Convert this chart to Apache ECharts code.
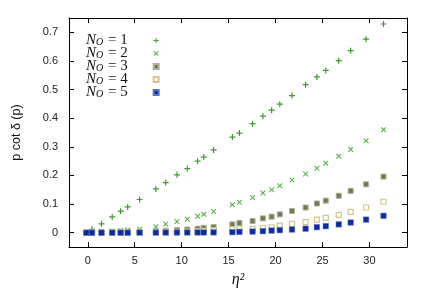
<!DOCTYPE html>
<html>
<head>
<meta charset="utf-8">
<script src="https://cdn.jsdelivr.net/npm/echarts@6/dist/echarts.min.js"></script>
<style>
html,body{margin:0;padding:0;background:#fff;}
#c{width:428px;height:305px;}
</style>
</head>
<body>
<div id="c"></div>
<script>
// eta^2 values (shared by all series)
const etaSq = [-0.15, 0.45, 1.46, 2.6, 3.5, 4.25, 5.52, 7.25, 8.3, 9.5, 10.6, 11.7, 12.35, 13.4, 15.4, 16.15, 17.55, 18.65, 19.58, 20.45, 21.75, 23.2, 24.4, 25.35, 26.73, 28.0, 29.64, 31.5];
const n1 = [0, 0.012, 0.031, 0.055, 0.075, 0.09, 0.116, 0.153, 0.175, 0.202, 0.224, 0.25, 0.264, 0.289, 0.334, 0.348, 0.381, 0.407, 0.428, 0.449, 0.479, 0.517, 0.544, 0.567, 0.601, 0.636, 0.676, 0.729];
const n2 = [0, 0.002, 0.004, 0.006, 0.008, 0.009, 0.012, 0.021, 0.03, 0.039, 0.047, 0.057, 0.064, 0.074, 0.098, 0.106, 0.123, 0.139, 0.15, 0.164, 0.184, 0.205, 0.225, 0.243, 0.267, 0.291, 0.321, 0.36];
const n3 = [0, 0, 0.0005, 0.001, 0.0015, 0.002, 0.003, 0.005, 0.007, 0.009, 0.011, 0.014, 0.017, 0.020, 0.029, 0.034, 0.041, 0.050, 0.056, 0.064, 0.076, 0.088, 0.102, 0.112, 0.129, 0.146, 0.169, 0.196];
const n4 = [0, 0, 0.0003, 0.0006, 0.001, 0.001, 0.0015, 0.002, 0.0025, 0.003, 0.004, 0.005, 0.006, 0.008, 0.0115, 0.012, 0.0135, 0.016, 0.019, 0.025, 0.0306, 0.037, 0.0457, 0.052, 0.0625, 0.073, 0.088, 0.108];
const n5 = [0, 0, 0, 0, 0, 0, 0.0002, 0.0003, 0.0004, 0.0005, 0.0006, 0.0007, 0.0008, 0.001, 0.0018, 0.0028, 0.0039, 0.0053, 0.0074, 0.0088, 0.011, 0.014, 0.0193, 0.0228, 0.029, 0.0355, 0.0457, 0.059];
const xTicks = [0, 5, 10, 15, 20, 25, 30];
const yTicks = [0, 0.1, 0.2, 0.3, 0.4, 0.5, 0.6, 0.7];
const seriesNames = ['1', '2', '3', '4', '5'];

const pair = arr => etaSq.map((x, i) => [x, arr[i]]);
const plusPath = 'path://M4,0h2v4h4v2h-4v4h-2v-4h-4v-2h4z';
const crossPath = 'path://M0,1.4L1.4,0L5,3.6L8.6,0L10,1.4L6.4,5L10,8.6L8.6,10L5,6.4L1.4,10L0,8.6L3.6,5z';

const chart = echarts.init(document.getElementById('c'), null, {renderer: 'canvas'});
const tickCommon = {show: true, inside: true, length: 5, lineStyle: {color: '#000', width: 1}};
const lineCommon = {show: true, onZero: false, lineStyle: {color: '#000', width: 1}};
const labelFont = {fontFamily: 'Liberation Sans', fontSize: 11, color: '#222'};

chart.setOption({
  animation: false,
  backgroundColor: '#fff',
  grid: {left: 69, right: 21, top: 18, bottom: 58, containLabel: false},
  legend: {
    orient: 'vertical', left: 86, top: 33, align: 'right',
    itemWidth: 5, itemHeight: 5, itemGap: -2, padding: 0,
    data: seriesNames,
    formatter: n => '{n|N}{s|O}{e| = ' + n + '}',
    textStyle: {
      lineHeight: 13, height: 13,
      rich: {
        n: {fontFamily: 'Liberation Serif', fontStyle: 'italic', fontSize: 15, color: '#111', lineHeight: 13},
        s: {fontFamily: 'Liberation Serif', fontStyle: 'italic', fontSize: 10, color: '#111', lineHeight: 7, verticalAlign: 'bottom', padding: [0, 1, 0, 0]},
        e: {fontFamily: 'Liberation Serif', fontSize: 15, color: '#111', padding: [0, 21, 0, 0], lineHeight: 13}
      }
    }
  },
  xAxis: [{
    type: 'value', min: -2, max: 34, position: 'bottom',
    name: 'η²', nameLocation: 'middle', nameGap: 25,
    nameTextStyle: {fontFamily: 'Liberation Serif', fontStyle: 'italic', fontSize: 16, color: '#111'},
    axisLine: lineCommon,
    axisTick: Object.assign({customValues: xTicks}, tickCommon),
    axisLabel: Object.assign({customValues: xTicks, margin: 8}, labelFont),
    splitLine: {show: false}
  }, {
    type: 'value', min: -2, max: 34, position: 'top',
    axisLine: lineCommon,
    axisTick: Object.assign({customValues: xTicks}, tickCommon),
    axisLabel: {show: false},
    splitLine: {show: false}
  }],
  yAxis: [{
    type: 'value', min: -0.05, max: 0.75, position: 'left',
    name: 'p cot δ (p)', nameLocation: 'middle', nameGap: 46, nameRotate: 90,
    nameTextStyle: {fontFamily: 'Liberation Sans', fontSize: 12.5, color: '#111'},
    axisLine: lineCommon,
    axisTick: Object.assign({customValues: yTicks}, tickCommon),
    axisLabel: Object.assign({customValues: yTicks, margin: 11, formatter: v => (v === 0 ? '0' : v.toFixed(1))}, labelFont),
    splitLine: {show: false}
  }, {
    type: 'value', min: -0.05, max: 0.75, position: 'right',
    axisLine: lineCommon,
    axisTick: Object.assign({customValues: yTicks}, tickCommon),
    axisLabel: {show: false},
    splitLine: {show: false}
  }],
  series: [
    {name: '1', type: 'scatter', data: pair(n1), symbol: plusPath, symbolSize: 6,
     itemStyle: {color: '#3f9a2e', opacity: 1}},
    {name: '2', type: 'scatter', data: pair(n2), symbol: crossPath, symbolSize: 5.5,
     itemStyle: {color: '#5cb348', opacity: 1}},
    {name: '3', type: 'scatter', data: pair(n3), symbol: 'rect', symbolSize: 5,
     itemStyle: {color: '#6c7a4c', borderColor: '#aab09a', borderWidth: 1, opacity: 1}},
    {name: '4', type: 'scatter', data: pair(n4), symbol: 'rect', symbolSize: 5,
     itemStyle: {color: '#ffffff', borderColor: '#d2c68e', borderWidth: 1.2, opacity: 1}},
    {name: '5', type: 'scatter', data: pair(n5), symbol: 'rect', symbolSize: 5.5,
     itemStyle: {color: '#0c2c9c', borderColor: '#5a72c0', borderWidth: 0.5, opacity: 1}}
  ]
});
</script>
</body>
</html>
